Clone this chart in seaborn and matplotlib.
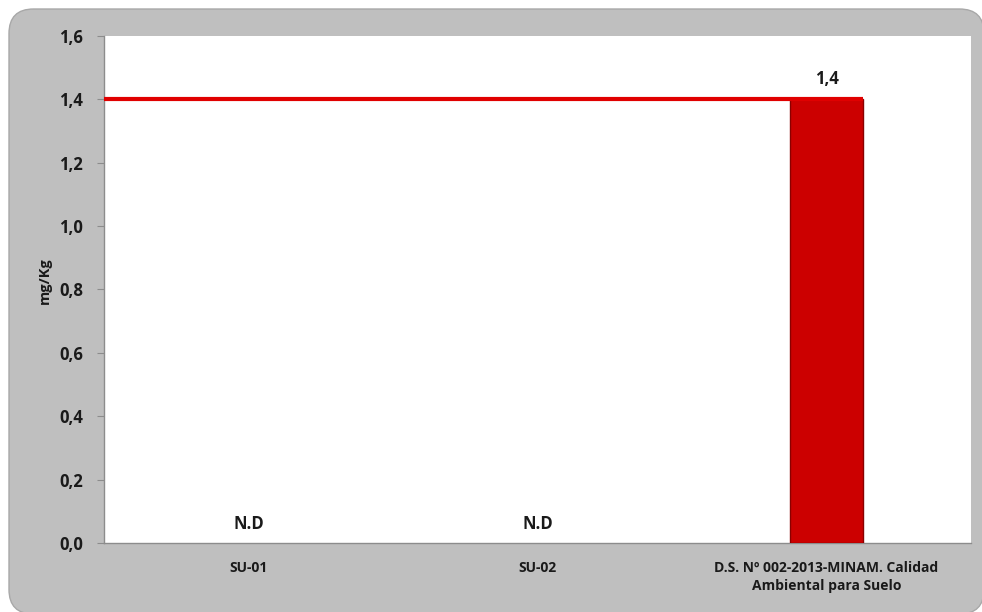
import numpy as np
import pandas as pd
import seaborn as sns
import matplotlib.pyplot as plt
from matplotlib.patches import FancyBboxPatch

# Data
categories = ["SU-01", "SU-02", "D.S. Nº 002-2013-MINAM. Calidad\nAmbiental para Suelo"]
values = [np.nan, np.nan, 1.4]          # NaN = not detected (N.D)
limit_value = 1.4                        # soil quality standard
y_ticks = [0.0, 0.2, 0.4, 0.6, 0.8, 1.0, 1.2, 1.4, 1.6]
y_label = "mg/Kg"

sns.set_theme(style="white")
plt.rcParams["font.family"] = ["Open Sans", "DejaVu Sans"]

W, H = 982, 612
fig = plt.figure(figsize=(W / 100, H / 100), dpi=100)
fig.patch.set_facecolor("white")

# Rounded grey chart-area panel, kept behind the axes (bleeds off right/bottom)
px0, py0, px1, py1 = 9, 9, 984, 614   # panel in pixels from top-left
panel = FancyBboxPatch((px0 / W, (H - py1) / H), (px1 - px0) / W, (py1 - py0) / H,
                       boxstyle="round,pad=0,rounding_size=0.025",
                       transform=fig.transFigure, facecolor="#bfbfbf",
                       edgecolor="#a8a8a8", linewidth=1.0, zorder=-10,
                       mutation_aspect=W / H)
fig.patches.append(panel)

ax = fig.add_axes([104 / W, (H - 543) / H, (971 - 104) / W, (543 - 36) / H])
ax.set_zorder(1)
ax.set_facecolor("white")

df = pd.DataFrame({"cat": categories, "val": values})
bar_width = 0.25
sns.barplot(data=df, x="cat", y="val", order=categories,
            color="#cc0000", saturation=1, edgecolor="#8a0000", linewidth=1.0,
            width=bar_width, errorbar=None, ax=ax, zorder=3)

# Standard limit line running to the right edge of the limit bar
ax.hlines(limit_value, -0.5, len(categories) - 1 + bar_width / 2,
          colors="#e00000", linewidth=3.0, zorder=4)

# Value labels
for i, v in enumerate(values):
    if np.isnan(v):
        ax.text(i, 0.03, "N.D", ha="center", va="bottom",
                fontsize=12, fontweight="bold", color="#1a1a1a")
    else:
        ax.text(i, v + 0.035, f"{v:.1f}".replace(".", ","), ha="center",
                va="bottom", fontsize=12, fontweight="bold", color="#1a1a1a")

ax.set_xlim(-0.5, len(categories) - 0.5)
ax.set_ylim(0, 1.6)
ax.set_yticks(y_ticks)
ax.set_yticklabels([f"{t:.1f}".replace(".", ",") for t in y_ticks],
                   fontsize=12, fontweight="bold", color="#1a1a1a")
ax.set_xticks(range(len(categories)))
ax.set_xticklabels(categories, fontsize=10, fontweight="bold",
                   color="#1a1a1a", linespacing=1.35)
ax.tick_params(axis="y", which="both", left=True, length=5, width=0.8,
               color="#8c8c8c", pad=10)
ax.tick_params(axis="x", bottom=False, pad=7)

ax.set_xlabel("")
ax.set_ylabel(y_label, fontsize=10.5, fontweight="bold", color="#1a1a1a")
ax.yaxis.set_label_coords(-0.06, 0.517)

for side in ["top", "right"]:
    ax.spines[side].set_visible(False)
for side in ["left", "bottom"]:
    ax.spines[side].set_color("#8c8c8c")
    ax.spines[side].set_linewidth(1.0)

fig.savefig("out.png", dpi=100)
